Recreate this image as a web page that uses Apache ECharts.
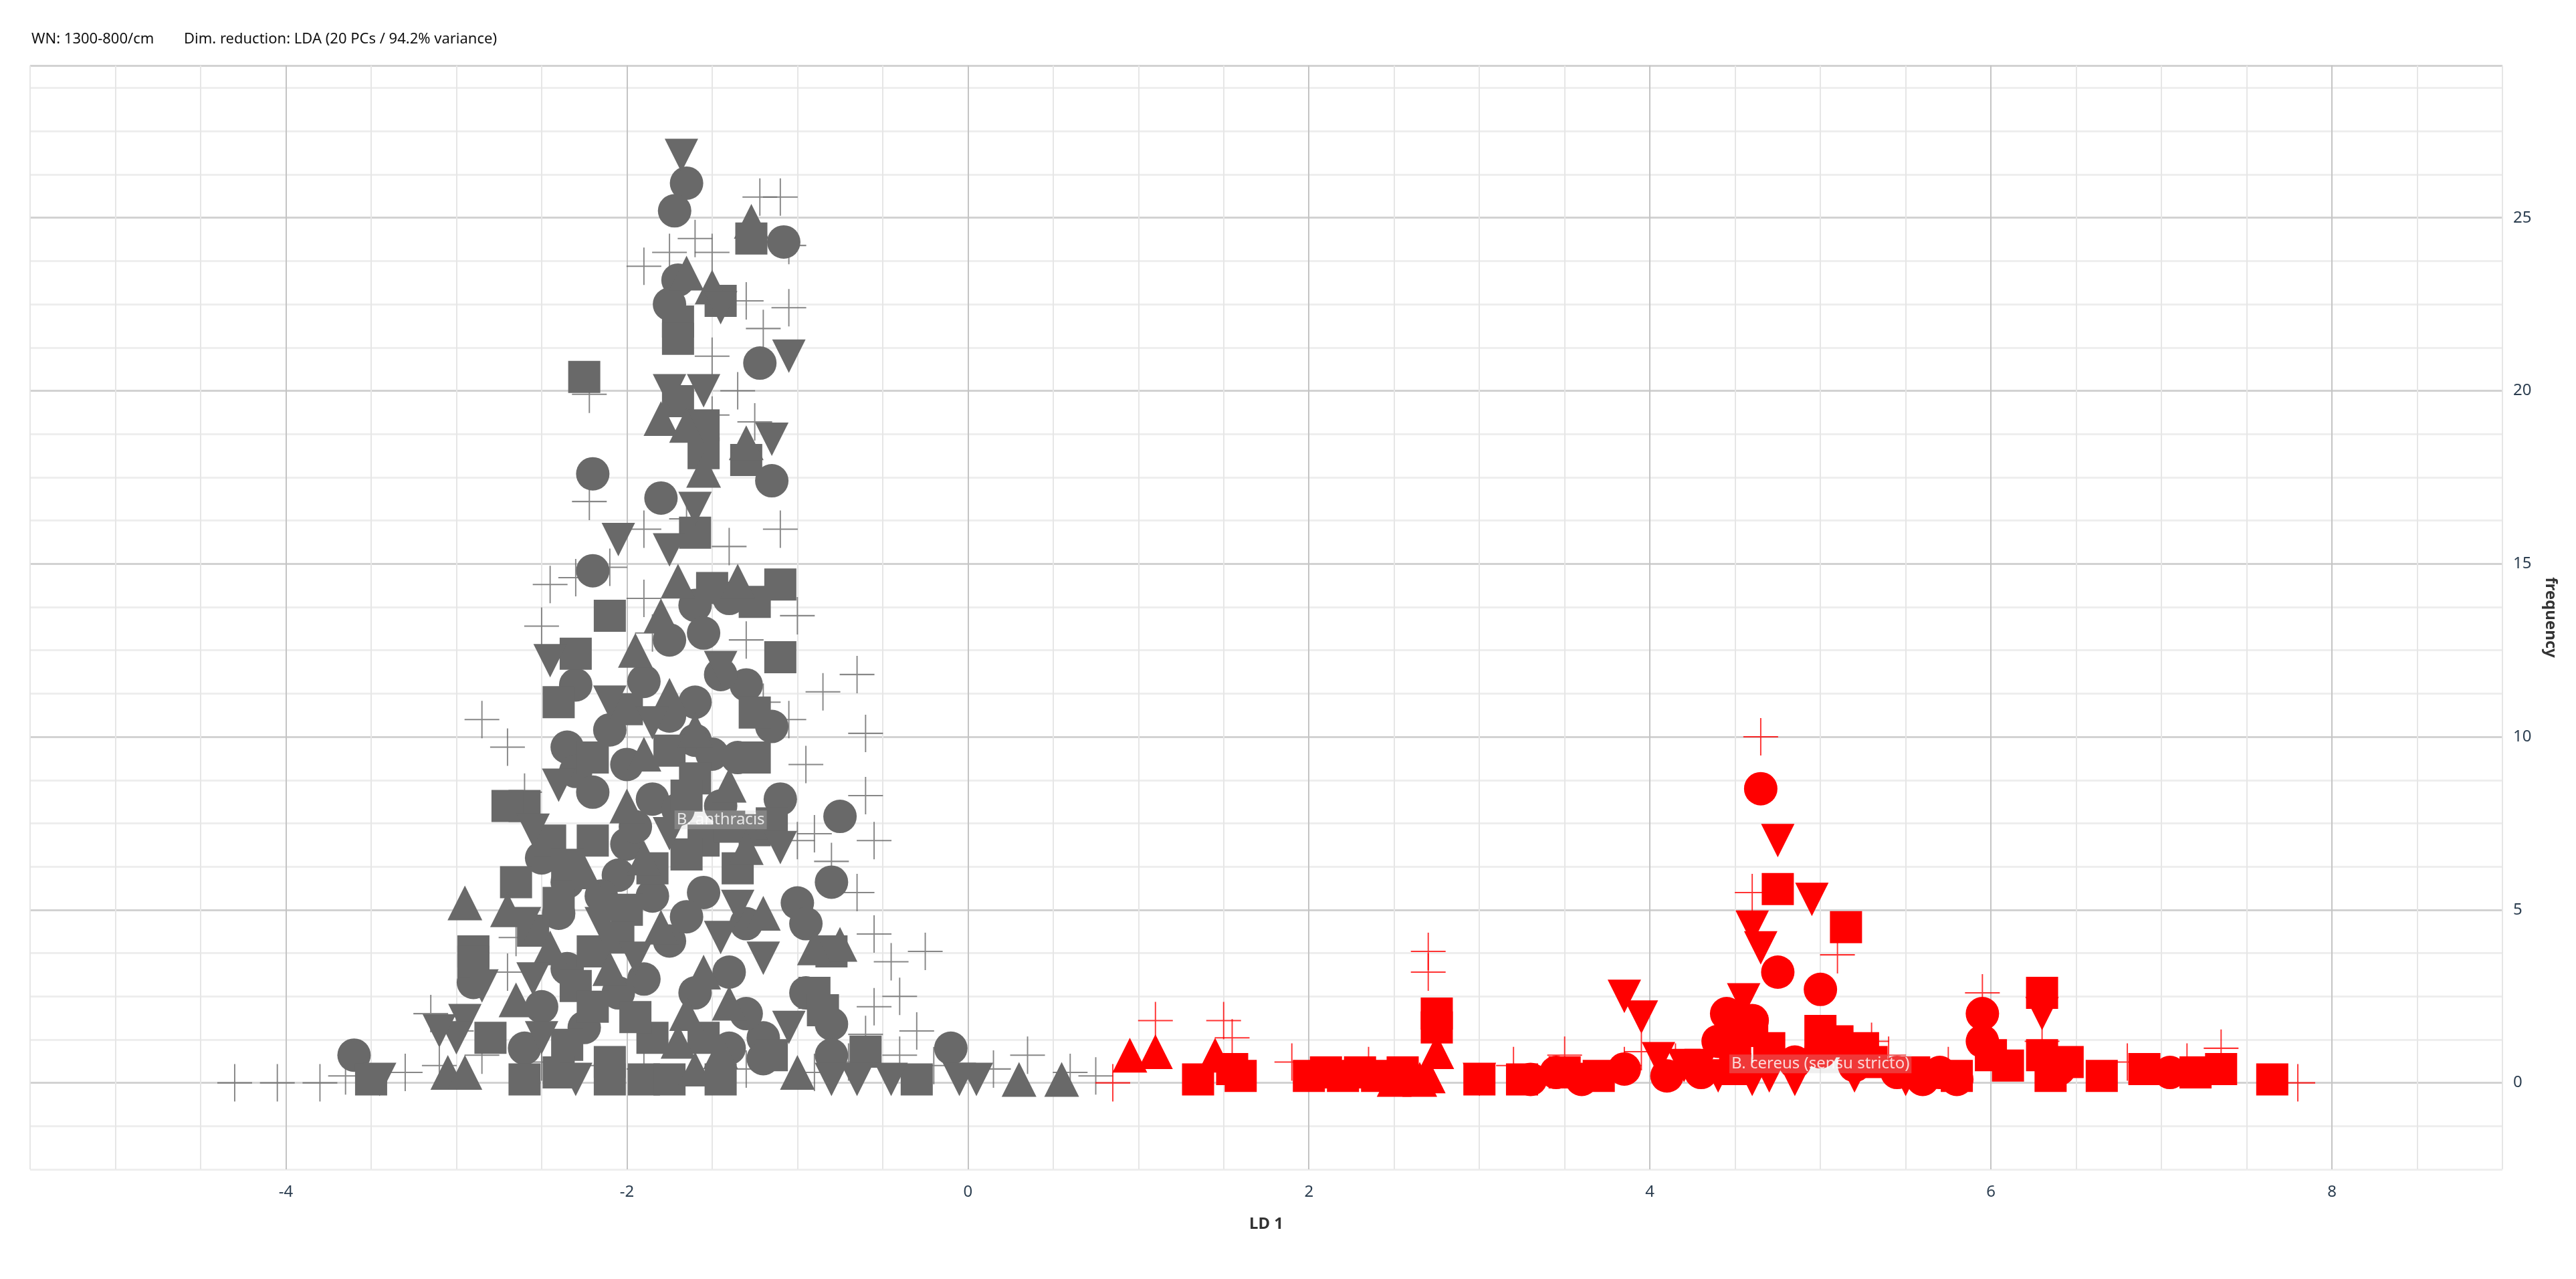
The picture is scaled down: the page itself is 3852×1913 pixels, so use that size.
<!DOCTYPE html>
<html>
<head>
<meta charset="utf-8">
<script src="https://cdn.jsdelivr.net/npm/echarts@6/dist/echarts.min.js"></script>
<style>
html,body{margin:0;padding:0;background:#fff;}
#chart_main{width:3852px;height:1913px;}
</style>
</head>
<body>
<div id="chart_main"></div>
<script>
// B. anthracis (gray)
var anthCircle = [[-1.65,26.0],[-1.72,25.2],[-1.08,24.3],[-1.7,23.2],[-1.75,22.5],[-1.22,20.8],[-2.2,17.6],[-1.15,17.4],[-1.8,16.9],
	[-2.2,14.8],[-1.4,14.0],[-1.6,13.8],[-1.55,13.0],[-1.75,12.8],[-2.3,11.5],[-1.9,11.6],[-1.3,11.5],[-1.6,11.0],[-1.15,10.3],
	[-2.35,9.7],[-2.3,9.0],[-2.0,9.2],[-1.6,9.9],[-1.5,9.5],[-1.35,9.4],[-2.2,8.4],[-1.85,8.2],[-1.1,8.2],[-0.75,7.7],[-2.0,6.9],
	[-2.35,5.8],[-2.05,6.0],[-1.85,5.4],[-1.55,5.5],[-1.3,4.6],[-1.0,5.2],[-0.8,5.8],[-0.95,4.6],[-1.75,4.1],[-2.4,4.9],[-2.35,3.3],
	[-2.9,2.9],[-1.4,3.2],[-1.9,3.0],[-1.6,2.6],[-1.2,1.3],[-0.8,1.7],[-0.95,2.6],[-1.4,1.0],[-0.8,0.8],[-0.1,1.0],[-3.6,0.8],[-1.2,0.7],
	[-2.5,6.5],[-2.15,5.4],[-1.7,7.9],[-1.45,8.0],[-1.95,7.4],[-2.5,2.2],[-2.05,2.6],[-1.65,4.8],[-2.25,1.6],[-1.3,2.0],[-2.6,1.0],
	[-1.75,10.6],[-1.45,11.8],[-2.1,10.2]];
var anthSquare = [[-1.27,24.4],[-1.45,22.6],[-1.7,22.0],[-1.7,21.5],[-2.25,20.4],[-1.7,19.7],[-1.55,19.0],[-1.55,18.2],[-1.3,18.0],
	[-2.1,13.5],[-1.6,15.9],[-1.5,14.3],[-1.1,14.4],[-1.25,13.9],[-2.3,12.4],[-2.4,11.0],[-1.1,12.3],[-1.25,10.7],[-2.2,9.4],
	[-1.75,9.6],[-1.6,8.8],[-1.25,9.4],[-2.6,8.0],[-2.7,8.0],[-2.45,7.0],[-2.2,7.0],[-1.55,7.0],[-1.65,6.6],[-2.65,5.8],[-2.0,5.0],
	[-0.8,3.8],[-2.05,4.2],[-2.3,2.8],[-2.9,3.8],[-2.9,3.5],[-0.9,2.6],[-0.85,2.1],[-2.2,2.2],[-2.8,1.3],[-2.35,1.1],[-1.85,1.3],
	[-1.55,1.3],[-1.15,0.8],[-0.6,0.9],[-3.5,0.1],[-2.6,0.1],[-2.4,0.3],[-2.1,0.1],[-1.9,0.1],[-1.75,0.1],[-1.45,0.1],[-0.3,0.1],
	[-2.35,6.3],[-1.85,6.2],[-2.55,4.4],[-2.2,3.8],[-1.95,1.9],[-1.35,6.2],[-1.4,7.4],[-2.4,5.2],[-2.1,0.6],[-1.65,8.3],[-2.0,10.8],
	[-1.25,7.3],[-1.15,7.5]];
var anthTriangle = [[-1.27,24.9],[-1.65,23.4],[-1.5,23.0],[-1.8,19.2],[-1.65,19.0],[-1.3,18.5],[-1.55,17.7],[-1.7,14.5],[-1.35,14.5],
	[-1.8,13.5],[-1.95,12.5],[-1.75,11.2],[-1.9,9.5],[-1.6,10.2],[-1.4,8.6],[-1.3,6.8],[-2.7,5.0],[-0.75,4.0],[-0.9,3.9],[-1.2,4.9],
	[-1.8,4.5],[-2.1,3.3],[-2.95,5.2],[-1.55,3.2],[-1.65,2.0],[-1.7,1.2],[-1.45,0.9],[-3.05,0.3],[-2.95,0.3],[-1.6,0.4],[-1.0,0.3],
	[0.3,0.1],[0.55,0.1],[-2.25,6.1],[-2.45,3.9],[-1.9,6.5],[-1.4,2.3],[-2.65,2.4],[-2.0,8.0]];
var anthDown = [[-1.68,26.8],[-1.45,22.4],[-1.05,21.0],[-1.75,20.0],[-1.55,20.0],[-1.15,18.6],[-1.6,16.6],[-2.05,15.7],[-1.75,15.4],
	[-2.45,12.2],[-2.1,11.0],[-1.45,12.0],[-1.85,10.4],[-2.55,7.3],[-1.75,7.2],[-1.1,6.8],[-1.35,5.1],[-1.45,4.2],[-2.6,4.6],
	[-2.55,3.0],[-2.85,2.8],[-2.95,1.8],[-3.0,1.3],[-3.1,1.5],[-3.45,0.1],[-2.3,0.1],[-0.8,0.1],[-0.65,0.1],[-0.45,0.1],[-0.05,0.1],[0.05,0.1],
	[-2.4,8.6],[-2.15,4.6],[-1.95,3.6],[-1.2,3.6],[-2.5,1.3],[-1.05,1.6]];
var anthCross = [[-1.22,25.6],[-1.1,25.6],[-1.05,24.2],[-1.75,24.0],[-1.5,24.0],[-1.3,22.6],[-1.05,22.4],[-1.2,21.8],[-2.22,19.9],
	[-1.5,19.3],[-1.25,19.1],[-2.22,16.8],[-1.65,16.3],[-2.45,14.4],[-2.3,14.6],[-2.1,14.9],[-1.0,13.5],[-0.85,11.3],[-0.65,11.8],
	[-0.6,10.1],[-4.3,0.0],[-4.05,0.0],[-3.8,0.0],[-3.65,0.2],[-3.55,0.5],[-3.3,0.3],[-3.1,0.5],[-2.85,0.8],[-2.5,0.6],[-2.15,0.5],
	[-1.9,0.4],[-1.3,0.4],[-0.9,0.3],[-0.7,0.6],[-0.4,0.8],[-0.2,0.5],[0.15,0.4],[0.35,0.8],[0.6,0.3],[0.75,0.2],[-0.45,3.5],
	[-0.25,3.8],[-0.4,2.5],[-0.55,2.2],[-0.3,1.5],[-0.6,1.4],[-0.55,7.0],[-0.6,8.3],[-0.8,6.4],[-0.9,7.2],[-0.65,5.5],[-0.55,4.3],
	[-3.0,1.5],[-3.15,2.0],[-2.7,3.2],[-2.65,4.2],[-2.5,13.2],[-2.85,10.5],[-2.7,9.7],[-2.6,8.4],[-1.9,14.0],[-1.85,13.0],[-1.3,12.8],
	[-1.2,11.0],[-1.05,10.5],[-0.95,9.2],[-1.0,7.0],[-1.4,15.5],[-1.1,16.0],[-1.9,16.0],[-1.35,20.0],[-1.5,21.0],[-1.9,23.6],[-1.6,24.4]];
// B. cereus (sensu stricto) (red)
var cerCircle = [[3.3,0.1],[3.45,0.3],[3.6,0.1],[3.85,0.4],[4.1,0.2],[4.4,1.2],[4.65,8.5],[4.75,3.2],[4.45,2.0],[4.6,1.8],[5.0,2.7],
	[5.0,0.9],[5.2,0.5],[5.6,0.1],[5.8,0.1],[5.95,1.2],[5.95,2.0],[5.7,0.3],[6.4,0.4],[7.05,0.3],[4.3,0.3],[4.85,0.6],[5.45,0.3]];
var cerSquare = [[1.35,0.1],[1.6,0.2],[1.55,0.4],[2.0,0.2],[2.1,0.3],[2.2,0.2],[2.3,0.3],[2.4,0.2],[2.55,0.3],[2.75,2.0],[2.75,1.6],
	[3.0,0.1],[3.25,0.1],[3.5,0.3],[3.7,0.2],[4.5,1.2],[4.5,0.4],[4.7,1.0],[4.75,5.6],[5.15,4.5],[5.0,1.5],[5.25,1.0],[5.55,0.3],
	[5.8,0.2],[6.0,0.8],[6.1,0.5],[6.3,2.6],[6.3,0.8],[6.45,0.6],[6.65,0.2],[6.9,0.4],[7.2,0.3],[7.35,0.4],[7.65,0.1],[6.35,0.2],
	[4.6,1.5],[5.1,1.2],[5.3,0.6]];
var cerTriangle = [[0.95,0.8],[1.1,0.9],[1.45,0.8],[2.5,0.1],[2.65,0.1],[2.75,0.9],[2.7,0.2]];
var cerDown = [[3.0,0.1],[3.85,2.5],[3.95,1.9],[4.3,0.5],[4.55,2.4],[4.6,4.5],[4.65,3.9],[4.75,7.0],[4.95,5.3],[4.6,0.1],[4.85,0.1],
	[5.2,0.2],[5.5,0.1],[6.3,2.0],[4.2,0.5],[4.4,0.2],[4.05,0.7],[4.7,0.2]];
var cerCross = [[1.1,1.8],[1.5,1.8],[1.55,1.3],[0.85,0.0],[2.7,3.8],[2.7,3.2],[3.2,0.5],[3.5,0.8],[3.85,0.5],[4.45,0.8],[4.65,10.0],
	[4.6,5.5],[5.1,3.7],[5.95,2.6],[6.3,1.2],[6.8,0.6],[7.15,0.6],[7.35,1.0],[7.8,0.0],[5.4,0.8],[5.3,1.2],[1.9,0.6],[2.35,0.5],
	[3.95,0.9],[4.15,0.6],[5.75,0.5]];
// 组标签
var groupLabels = [['B. anthracis',-1.45,7.6],['B. cereus (sensu stricto)',5.0,0.55]];

var GRAY = '#696969';
var RED = '#ff0000';
var DOWN = 'path://M0,0L10,0L5,10Z';
var CROSS = 'path://M5,0L5,10M0,5L10,5';

function shapeSeries(data, symbol, color, size){
	return {
		type:'scatter', data:data, symbol:symbol, symbolSize:size||50,
		itemStyle:{color:color, opacity:1}, silent:true
	};
}
function crossSeries(data, color){
	return {
		type:'scatter', data:data, symbol:CROSS, symbolSize:[52,56],
		itemStyle:{color:'rgba(0,0,0,0)', borderColor:color, borderWidth:2}, silent:true
	};
}

var series = [
	crossSeries(anthCross, GRAY),
	shapeSeries(anthCircle,'circle',GRAY,50),
	shapeSeries(anthSquare,'rect',GRAY,48),
	shapeSeries(anthTriangle,'triangle',GRAY,52),
	shapeSeries(anthDown,DOWN,GRAY,50),
	crossSeries(cerCross, RED),
	shapeSeries(cerCircle,'circle',RED,50),
	shapeSeries(cerSquare,'rect',RED,48),
	shapeSeries(cerTriangle,'triangle',RED,52),
	shapeSeries(cerDown,DOWN,RED,50),
	{
		type:'scatter', symbolSize:1, silent:true, z:100, zlevel:1,
		itemStyle:{color:'rgba(0,0,0,0)'},
		labelLayout:{hideOverlap:false},
		data:groupLabels.map(function(d){ return {name:d[0], value:[d[1],d[2]]}; }),
		label:{show:true, position:'inside', formatter:'{b}', color:'#fff', fontSize:24, fontFamily:'Noto Sans',
			backgroundColor:'rgba(200,200,200,0.35)', padding:[2,3]}
	}
];

var chart = echarts.init(document.getElementById('chart_main'));
var option = {
	animation:false,
	backgroundColor:'#fff',
	textStyle:{fontFamily:'Noto Sans'},
	graphic:[
		{type:'text', left:47, top:48, style:{text:'WN: 1300-800/cm', fontSize:22, fill:'#111', fontFamily:'Noto Sans'}},
		{type:'text', left:275, top:48, style:{text:'Dim. reduction: LDA (20 PCs / 94.2% variance)', fontSize:22, fill:'#111', fontFamily:'Noto Sans'}}
	],
	grid:{left:45, right:110, top:98, bottom:164},
	xAxis:{
		type:'value', min:-5.5, max:9, interval:0.5,
		name:'LD 1', nameLocation:'middle', nameGap:70,
		nameTextStyle:{fontSize:24, fontWeight:'bold', color:'#333'},
		axisLine:{show:false}, axisTick:{show:false},
		axisLabel:{fontSize:24, color:'#2c3e50', margin:22, showMaxLabel:false,
			formatter:function(v){ return (Math.abs(v % 2) < 1e-9) ? String(v) : ''; }},
		splitLine:{show:true, lineStyle:{width:2, color:['#e6e6e6','#e6e6e6','#e6e6e6','#c4c4c4']}}
	},
	yAxis:{
		type:'value', position:'right', min:-2.5, max:29.4, interval:1.25,
		name:'frequency', nameLocation:'middle', nameGap:60, nameRotate:-90,
		nameTextStyle:{fontSize:24, fontWeight:'bold', color:'#333'},
		axisLine:{show:false}, axisTick:{show:false},
		axisLabel:{fontSize:24, color:'#2c3e50', margin:16, showMaxLabel:false,
			formatter:function(v){ return (Math.abs(v % 5) < 1e-9) ? String(v) : ''; }},
		splitLine:{show:true, lineStyle:{width:3, color:['#eeeeee','#eeeeee','#d2d2d2','#eeeeee']}}
	},
	series:series
};
chart.setOption(option);
</script>
</body>
</html>
